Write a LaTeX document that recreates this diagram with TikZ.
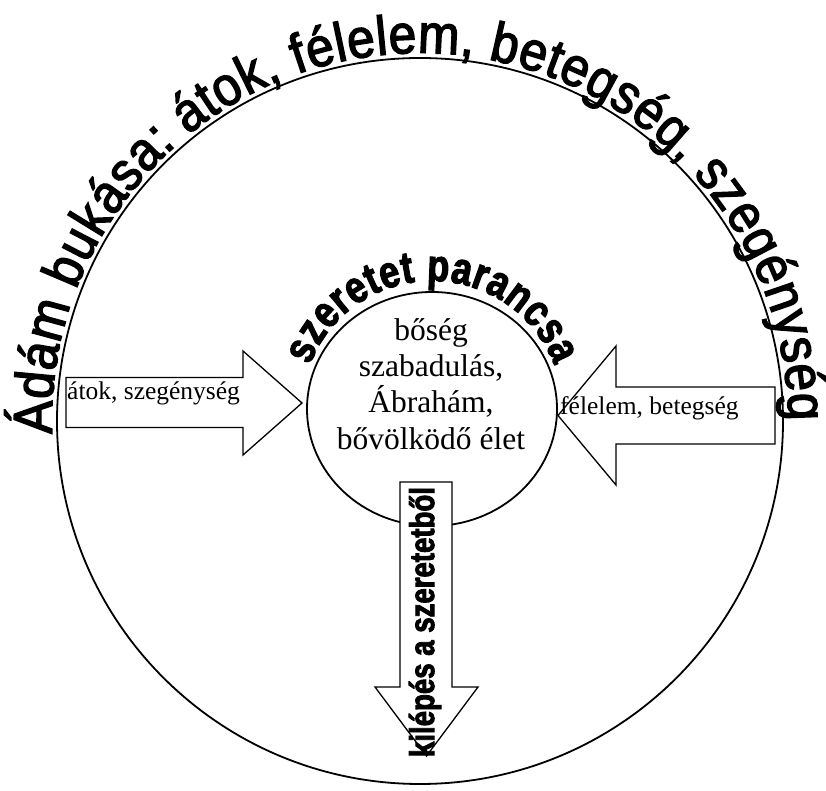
\documentclass[tikz,border=0pt]{standalone}
\usepackage{fontspec}
\setmainfont{Liberation Serif}
\setsansfont{Liberation Sans}
\newfontfamily\arcsans[FakeStretch=0.9,FakeBold=2.5]{Liberation Sans}
\newfontfamily\heavysans[FakeStretch=0.8,FakeBold=2.5]{Liberation Sans Bold}
\usetikzlibrary{shapes.geometric,decorations.text}

\begin{document}
\begin{tikzpicture}[x=1pt,y=1pt,
    ring/.style={draw,line width=1.8pt,inner sep=0pt},
    blockarrow/.style={draw,line width=1.3pt,fill=white},
    inlabel/.style={font=\fontsize{25.5}{29}\selectfont,inner sep=0pt}]
    \useasboundingbox (0,0) rectangle (826,791);

    \node[ring,circle,minimum size=726] (world) at (420,370) {};
    \node[ring,ellipse,minimum width=250,minimum height=234] (love) at (432,382) {};

    \draw[blockarrow] (66,363.5) -- (243,363.5) -- (243,336) -- (302,388) -- (243,440) -- (243,413.5) -- (66,413.5) -- cycle;
    \draw[blockarrow] (775,347) -- (616,347) -- (616,306) -- (558,375.5) -- (616,445) -- (616,404) -- (775,404) -- cycle;
    \draw[blockarrow] (400,309) -- (400,104) -- (375,104) -- (426.5,35) -- (478,104) -- (452,104) -- (452,309) -- cycle;

    \path[decorate,decoration={text along path,text align={fit to path},
        text={|\arcsans\fontsize{55}{55}\selectfont|Ádám bukása: átok, félelem, betegség, szegénység}}]
        (world.center) ++(182:368) arc[start angle=182,end angle=0,radius=368];
    \path[decorate,decoration={text along path,text align={fit to path},
        text={|\heavysans\fontsize{45}{45}\selectfont|szeretet parancsa}}]
        (love.center) ++(160:130 and 128) arc[start angle=160,end angle=20,x radius=130,y radius=128];

    \node[align=center,inner sep=0pt,font=\fontsize{31.5}{36.3}\selectfont] (gifts) at (431,407)
        {bőség\\szabadulás,\\Ábrahám,\\bővölködő élet};
    \node[inlabel,anchor=base west] (curse) at (67,391) {átok, szegénység};
    \node[inlabel,anchor=base west] (fear) at (560,376) {félelem, betegség};
    \node[rotate=90,inner sep=0pt,font=\heavysans\fontsize{34.5}{34.5}\selectfont] (exit) at (425,169) {kilépés a szeretetből};
\end{tikzpicture}
\end{document}
